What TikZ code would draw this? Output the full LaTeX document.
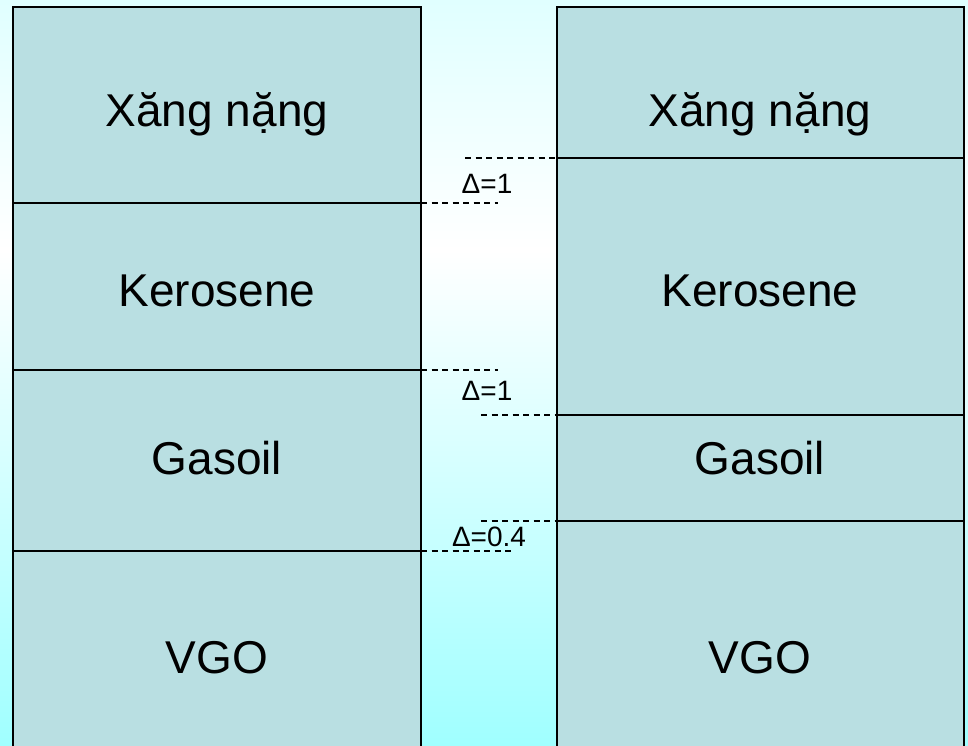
\documentclass[tikz,border=0pt]{standalone}
\usepackage{fontspec}
\setmainfont{Liberation Sans}
\begin{document}
\begin{tikzpicture}[x=1pt,y=-1pt,
  colfill/.style={fill=boxteal,draw=black,line width=2pt},
  divider/.style={draw=black,line width=1.4pt},
  gap/.style={draw=black,line width=1.2pt,dash pattern=on 6pt off 4.5pt},
  cut/.style={font=\fontsize{46}{50}\selectfont,anchor=base,inner sep=0pt},
  delta/.style={font=\fontsize{28}{30}\selectfont,anchor=base,inner sep=0pt}]
\definecolor{boxteal}{RGB}{185,223,226}
\definecolor{topcyan}{RGB}{224,255,255}
\definecolor{botcyan}{RGB}{160,255,255}
\useasboundingbox (0,0) rectangle (968,745);
% background gradient
\shade[top color=topcyan,bottom color=white] (0,0) rectangle (968,250.5);
\shade[top color=white,bottom color=botcyan] (0,250) rectangle (968,745);
% two columns of cuts
\path[colfill] (13,7) rectangle (421,760);
\path[colfill] (557,7) rectangle (964,760);
% left cut boundaries
\coordinate (L1a) at (13,203);  \coordinate (L1b) at (421,203);
\coordinate (L2a) at (13,370);  \coordinate (L2b) at (421,370);
\coordinate (L3a) at (13,551);  \coordinate (L3b) at (421,551);
\path[divider] (L1a) -- (L1b) (L2a) -- (L2b) (L3a) -- (L3b);
% right cut boundaries
\coordinate (R1a) at (557,158);  \coordinate (R1b) at (964,158);
\coordinate (R2a) at (557,415);  \coordinate (R2b) at (964,415);
\coordinate (R3a) at (557,521);  \coordinate (R3b) at (964,521);
\path[divider] (R1a) -- (R1b) (R2a) -- (R2b) (R3a) -- (R3b);
% dashed extensions across the gap
\coordinate (g1) at (465,158);
\coordinate (g2) at (498,203);
\coordinate (g3) at (498,370);
\coordinate (g4) at (481,415);
\coordinate (g5) at (481,521);
\coordinate (g6) at (513,551);
\path[gap] (g1) -- (R1a);
\path[gap] (L1b) -- (g2);
\path[gap] (L2b) -- (g3);
\path[gap] (g4) -- (R2a);
\path[gap] (g5) -- (R3a);
\path[gap] (L3b) -- (g6);
\path[divider] (R3a) -- ++(14,0);
% overlap labels
\node[delta] (d1) at (487,193) {Δ=1};
\node[delta] (d2) at (487,400) {Δ=1};
\node[delta] (d3) at (489,546) {Δ=0.4};
% cut names, left
\node[cut] (lx) at (217,126) {Xăng nặng};
\node[cut] (lk) at (217,306) {Kerosene};
\node[cut] (lg) at (217,474) {Gasoil};
\node[cut] (lv) at (217,673) {VGO};
% cut names, right
\node[cut] (rx) at (760,126) {Xăng nặng};
\node[cut] (rk) at (760,306) {Kerosene};
\node[cut] (rg) at (760,474) {Gasoil};
\node[cut] (rv) at (760,673) {VGO};
\end{tikzpicture}
\end{document}
